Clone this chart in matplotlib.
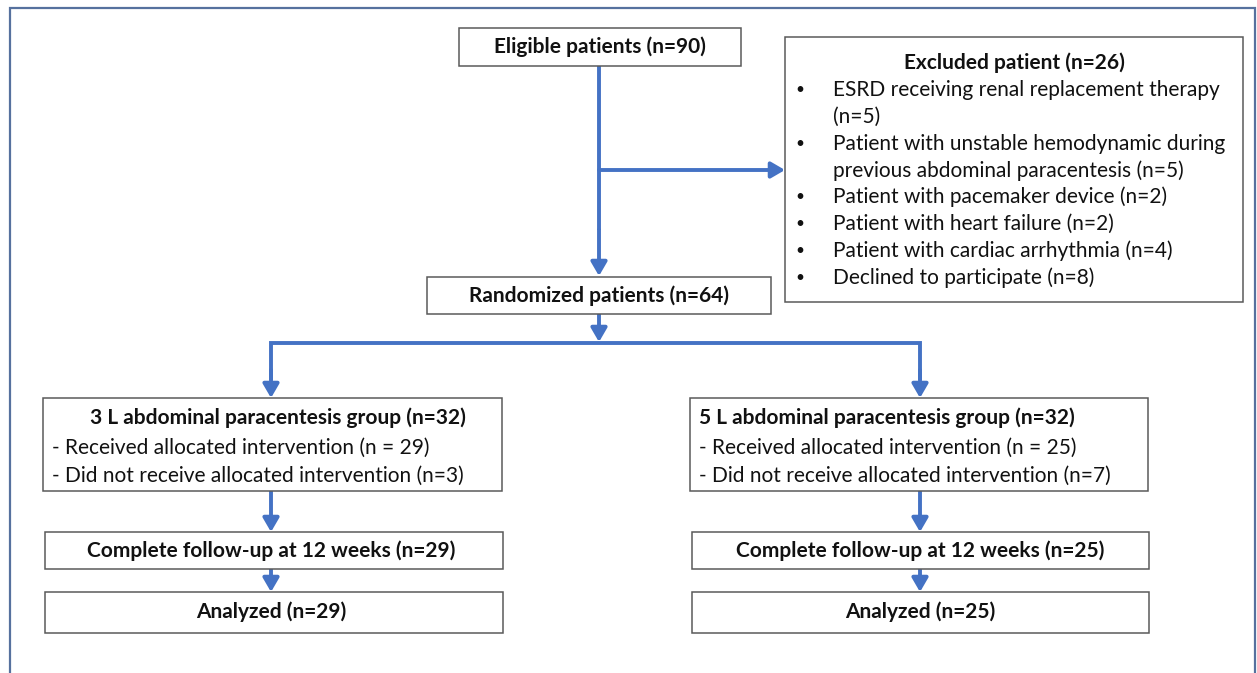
import matplotlib
matplotlib.use("Agg")
import matplotlib.pyplot as plt
from matplotlib.patches import Rectangle

# ---- data (texts and counts) ----
eligible_label = "Eligible patients (n=90)"
excluded_title = "Excluded patient (n=26)"
excluded_items = [
    ["ESRD receiving renal replacement therapy", "(n=5)"],
    ["Patient with unstable hemodynamic during", "previous abdominal paracentesis (n=5)"],
    ["Patient with pacemaker device (n=2)"],
    ["Patient with heart failure (n=2)"],
    ["Patient with cardiac arrhythmia (n=4)"],
    ["Declined to participate (n=8)"],
]
randomized_label = "Randomized patients (n=64)"
group_titles = ["3 L abdominal paracentesis group (n=32)", "5 L abdominal paracentesis group (n=32)"]
group_received = ["- Received allocated intervention (n = 29)", "- Received allocated intervention (n = 25)"]
group_not_received = ["- Did not receive allocated intervention (n=3)", "- Did not receive allocated intervention (n=7)"]
followup_labels = ["Complete follow-up at 12 weeks (n=29)", "Complete follow-up at 12 weeks (n=25)"]
analyzed_labels = ["Analyzed (n=29)", "Analyzed (n=25)"]

W, H = 1257, 673
BLUE = "#4472C4"
EDGE = "#5a5a5a"
FONT = "Lato"
FS = 15.0

fig = plt.figure(figsize=(W / 100, H / 100), dpi=100)
ax = fig.add_axes([0, 0, 1, 1])
ax.set_xlim(0, W)
ax.set_ylim(H, 0)
ax.axis("off")

# outer frame (open at the bottom)
ax.plot([10, 10, 1255, 1255], [H, 8, 8, H], color="#56719e", lw=1.6, solid_joinstyle="miter")


def box(x0, y0, x1, y1):
    ax.add_patch(Rectangle((x0, y0), x1 - x0, y1 - y0, fill=True, facecolor="white",
                           edgecolor=EDGE, lw=1.1, zorder=2))


def text(x, y, s, bold=False, ha="center"):
    ax.text(x, y, s, ha=ha, va="center", fontsize=FS, family=FONT,
            fontweight="bold" if bold else "normal", color="#111111", zorder=3)


def line(xs, ys):
    ax.plot(xs, ys, color=BLUE, lw=2.8, solid_capstyle="butt", solid_joinstyle="miter", zorder=1)


def arrow(x0, y0, x1, y1):
    ax.annotate("", xy=(x1, y1), xytext=(x0, y0),
                arrowprops=dict(arrowstyle="-|>,head_length=0.55,head_width=0.32",
                                color=BLUE, lw=2.8, shrinkA=0, shrinkB=0,
                                mutation_scale=15), zorder=1)


# eligible
box(459, 28, 741, 66)
text(600, 47, eligible_label, bold=True)

# excluded
box(785, 37, 1243, 302)
text(1014, 63, excluded_title, bold=True)
y = 90
step = 26.8
for item in excluded_items:
    ax.text(800, y, "•", ha="center", va="center", fontsize=FS * 0.75, family=FONT,
            color="#111111", zorder=3)
    for ln in item:
        text(833, y, ln, ha="left")
        y += step

# connections top
line([599, 599], [66, 230])
arrow(599, 230, 599, 276)
arrow(599, 170, 785, 170)

# randomized
box(427, 277, 771, 314)
text(599, 296, randomized_label, bold=True)
arrow(599, 314, 599, 342)
line([271, 271, 920, 920], [380, 343, 343, 380])

centers = [271, 920]
lefts = [43, 690]
rights = [502, 1148]
for i in range(2):
    cx = centers[i]
    arrow(cx, 370, cx, 398)
    box(lefts[i], 398, rights[i], 491)
    if i == 0:
        text((lefts[i] + rights[i]) / 2 + 5, 418, group_titles[i], bold=True)
    else:
        text(lefts[i] + 9, 418, group_titles[i], bold=True, ha="left")
    text(lefts[i] + 9, 448, group_received[i], ha="left")
    text(lefts[i] + 9, 476, group_not_received[i], ha="left")
    arrow(cx, 491, cx, 532)
    box(lefts[i] + 2, 532, rights[i] + 1, 569)
    text(cx, 551, followup_labels[i], bold=True)
    arrow(cx, 569, cx, 592)
    box(lefts[i] + 2, 592, rights[i] + 1, 633)
    text(cx, 612, analyzed_labels[i], bold=True)

fig.savefig("out.png", dpi=100, facecolor="white")
